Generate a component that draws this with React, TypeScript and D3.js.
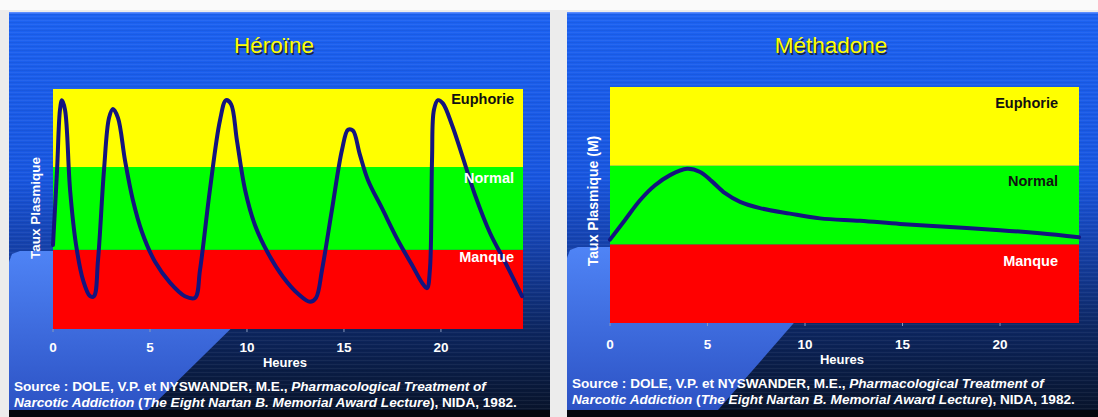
import React from "react";
import * as d3 from "d3";

// ---------- data ----------
const heroinHours = [0, 0.21, 0.36, 0.46, 0.62, 0.88, 1.19, 1.55, 1.91, 2.11, 2.32, 2.63, 2.89, 3.09, 3.35, 3.71, 4.12, 4.59, 5.26, 6.03, 6.8, 7.32, 7.58, 8.09, 8.61, 8.92, 9.18, 9.48, 9.9, 10.41, 11.08, 11.86, 12.63, 13.25, 13.56, 13.87, 14.38, 14.9, 15.21, 15.46, 15.82, 16.24, 16.96, 17.78, 18.51, 19.02, 19.28, 19.43, 19.54, 19.64, 19.85, 20.1, 20.57, 21.08, 21.75, 22.53, 23.3, 24.18];
const heroinLevel = [1.05, 1.99, 2.74, 2.86, 2.74, 1.74, 1.05, 0.61, 0.41, 0.41, 0.86, 1.99, 2.64, 2.75, 2.64, 2.11, 1.61, 1.21, 0.84, 0.58, 0.41, 0.39, 0.74, 1.74, 2.61, 2.86, 2.81, 2.36, 1.74, 1.3, 0.95, 0.65, 0.44, 0.34, 0.39, 0.74, 1.49, 2.24, 2.49, 2.48, 2.18, 1.86, 1.51, 1.11, 0.8, 0.58, 0.51, 0.74, 2.11, 2.74, 2.86, 2.82, 2.55, 2.18, 1.68, 1.2, 0.84, 0.41];

const methadoneHours = [0, 0.77, 1.54, 2.31, 3.08, 3.95, 4.62, 5.23, 5.9, 6.67, 7.69, 9.23, 10.77, 12.82, 14.87, 17.44, 20.0, 22.05, 24.05];
const methadoneLevel = [1.06, 1.31, 1.56, 1.75, 1.88, 1.96, 1.92, 1.8, 1.65, 1.54, 1.46, 1.39, 1.33, 1.3, 1.26, 1.22, 1.18, 1.14, 1.09];

const bandNames = ["Manque", "Normal", "Euphorie"];
const bandColors = ["#ff0000", "#00ff00", "#ffff00"];
const heroinBandEdges = [0, 0.99, 2.025, 3];
const methadoneBandEdges = [0, 1, 2, 3];
const xTicks = [0, 5, 10, 15, 20];

const sourceLine1a = "Source : DOLE, V.P. et NYSWANDER, M.E., ";
const sourceLine1b = "Pharmacological Treatment of";
const sourceLine2a = "Narcotic Addiction";
const sourceLine2b = " (";
const sourceLine2c = "The Eight Nartan B. Memorial Award Lecture";
const sourceLine2d = "), NIDA, 1982.";

const FONT = "'Liberation Sans', Arial, sans-serif";

type PanelProps = {
  id: string;
  px: number;
  pw: number;
  title: string;
  titleX: number;
  yLabel: string;
  yLabelX: number;
  yLabelY: number;
  yLabelSize: number;
  plot: { x0: number; x1: number; y0: number; y1: number; xMax: number };
  hours: number[];
  levels: number[];
  edges: number[];
  labelColors: string[];
  labelX: number;
  labelYs: number[];
  tickY: number;
  heuresX: number;
  heuresY: number;
  srcX: number;
  srcY: number;
  wedge: [number, number][];
};

function Panel(p: PanelProps) {
  const x = d3.scaleLinear().domain([0, p.plot.xMax]).range([p.plot.x0, p.plot.x1]);
  const y = d3.scaleLinear().domain([0, 3]).range([p.plot.y1, p.plot.y0]);
  const pts = p.hours.map((h, i) => [h, p.levels[i]] as [number, number]);
  const line = d3
    .line<[number, number]>()
    .x((d) => x(d[0]))
    .y((d) => y(d[1]))
    .curve(d3.curveCatmullRom.alpha(0.5));
  const wedgePath = "M" + p.wedge.map((q) => q.join(",")).join("L") + "Z";
  return (
    <g>
      <rect x={p.px} y={12} width={p.pw} height={398} fill={`url(#bg-${p.id})`} />
      <rect x={p.px} y={12} width={p.pw} height={398} fill="url(#stripes)" />
      <path d={wedgePath} fill={`url(#wedge-${p.id})`} />
      <rect x={p.px} y={410} width={p.pw} height={7} fill="#04070d" />
      <rect x={p.px} y={12} width={p.pw} height={1.5} fill="#5b8cff" />
      {/* title */}
      <text x={p.titleX + 1.5} y={54.5} fill="#1a1a1a" fontFamily={FONT} fontSize={22.5} textAnchor="middle" opacity={0.8}>
        {p.title}
      </text>
      <text x={p.titleX} y={53} fill="#ffff00" fontFamily={FONT} fontSize={22.5} textAnchor="middle">
        {p.title}
      </text>
      {/* bands */}
      {bandNames.map((name, i) => (
        <rect
          key={name}
          x={p.plot.x0}
          y={y(p.edges[i + 1])}
          width={p.plot.x1 - p.plot.x0}
          height={y(p.edges[i]) - y(p.edges[i + 1])}
          fill={bandColors[i]}
        />
      ))}
      {/* curve */}
      <path d={line(pts) || ""} fill="none" stroke="#14147e" strokeWidth={4} strokeLinejoin="round" strokeLinecap="round" />
      {bandNames.map((name, i) => (
        <text
          key={"l" + name}
          x={p.labelX}
          y={p.labelYs[i]}
          fill={p.labelColors[i]}
          fontFamily={FONT}
          fontWeight="bold"
          fontSize={14.5}
          textAnchor="end"
        >
          {name}
        </text>
      ))}
      {/* x ticks */}
      {xTicks.map((t) => (
        <g key={t}>
          <line x1={x(t)} x2={x(t)} y1={p.plot.y1} y2={p.plot.y1 + 3} stroke="#8899bb" strokeWidth={1} />
          <text x={x(t)} y={p.tickY} fill="#ffffff" fontFamily={FONT} fontWeight="bold" fontSize={13.5} textAnchor="middle">
            {t}
          </text>
        </g>
      ))}
      <text x={p.heuresX} y={p.heuresY} fill="#ffffff" fontFamily={FONT} fontWeight="bold" fontSize={13} textAnchor="middle">
        Heures
      </text>
      <text
        transform={`translate(${p.yLabelX},${p.yLabelY}) rotate(-90)`}
        fill="#ffffff"
        fontFamily={FONT}
        fontWeight="bold"
        fontSize={p.yLabelSize}
        textAnchor="middle"
        dy="0.35em"
      >
        {p.yLabel}
      </text>
      {/* source */}
      <text x={p.srcX} y={p.srcY} fill="#ffffff" fontFamily={FONT} fontWeight="bold" fontSize={13.6}>
        {sourceLine1a}
        <tspan fontStyle="italic">{sourceLine1b}</tspan>
      </text>
      <text x={p.srcX} y={p.srcY + 16} fill="#ffffff" fontFamily={FONT} fontWeight="bold" fontSize={13.6}>
        <tspan fontStyle="italic">{sourceLine2a}</tspan>
        {sourceLine2b}
        <tspan fontStyle="italic">{sourceLine2c}</tspan>
        {sourceLine2d}
      </text>
    </g>
  );
}

export default function App() {
  const bgStops = (
    <>
      <stop offset="0" stopColor="#1c62f2" />
      <stop offset="0.42" stopColor="#1856e0" />
      <stop offset="0.6" stopColor="#1540a8" />
      <stop offset="0.8" stopColor="#0d2660" />
      <stop offset="1" stopColor="#08142c" />
    </>
  );
  const wedgeStops = (
    <>
      <stop offset="0" stopColor="#4f84f6" />
      <stop offset="1" stopColor="#2c52c4" />
    </>
  );
  return (
    <svg width={1098} height={417} style={{ position: "absolute", left: 0, top: 0 }}>
      <defs>
        <linearGradient id="bg-h" x1="0" y1="12" x2="0" y2="410" gradientUnits="userSpaceOnUse">
          {bgStops}
        </linearGradient>
        <linearGradient id="bg-m" x1="0" y1="12" x2="0" y2="410" gradientUnits="userSpaceOnUse">
          {bgStops}
        </linearGradient>
        <linearGradient id="wedge-h" x1="0" y1="250" x2="0" y2="410" gradientUnits="userSpaceOnUse">
          {wedgeStops}
        </linearGradient>
        <linearGradient id="wedge-m" x1="0" y1="247" x2="0" y2="410" gradientUnits="userSpaceOnUse">
          {wedgeStops}
        </linearGradient>
        <pattern id="stripes" x="0" y="0" width="6" height="4" patternUnits="userSpaceOnUse">
          <rect x="0" y="0" width="6" height="1" fill="#ffffff" opacity="0.05" />
          <rect x="0" y="2" width="6" height="1" fill="#000000" opacity="0.05" />
        </pattern>
      </defs>
      <rect x={0} y={0} width={1098} height={417} fill="#ececec" />
      <rect x={0} y={0} width={1098} height={10} fill="#fafafa" />
      <Panel
        id="h"
        px={9}
        pw={541}
        title="Héroïne"
        titleX={274}
        yLabel="Taux Plasmique"
        yLabelX={35}
        yLabelY={208}
        yLabelSize={13.5}
        plot={{ x0: 53, x1: 523, y0: 89, y1: 329, xMax: 24.23 }}
        hours={heroinHours}
        levels={heroinLevel}
        edges={heroinBandEdges}
        labelColors={["#ffffff", "#ffffff", "#111111"]}
        labelX={514}
        labelYs={[262, 183, 104]}
        tickY={352}
        heuresX={285}
        heuresY={367}
        srcX={14}
        srcY={391}
        wedge={[[9, 262], [12, 254], [20, 251], [310, 251], [148, 410], [9, 410]]}
      />
      <Panel
        id="m"
        px={567}
        pw={531}
        title="Méthadone"
        titleX={831}
        yLabel="Taux Plasmique (M)"
        yLabelX={593}
        yLabelY={201}
        yLabelSize={14}
        plot={{ x0: 610, x1: 1079, y0: 87, y1: 323, xMax: 24.05 }}
        hours={methadoneHours}
        levels={methadoneLevel}
        edges={methadoneBandEdges}
        labelColors={["#ffffff", "#111111", "#111111"]}
        labelX={1058}
        labelYs={[266, 186, 108]}
        tickY={349}
        heuresX={842}
        heuresY={364}
        srcX={572}
        srcY={388}
        wedge={[[567, 258], [570, 250], [578, 247], [860, 247], [718, 410], [567, 410]]}
      />
    </svg>
  );
}
